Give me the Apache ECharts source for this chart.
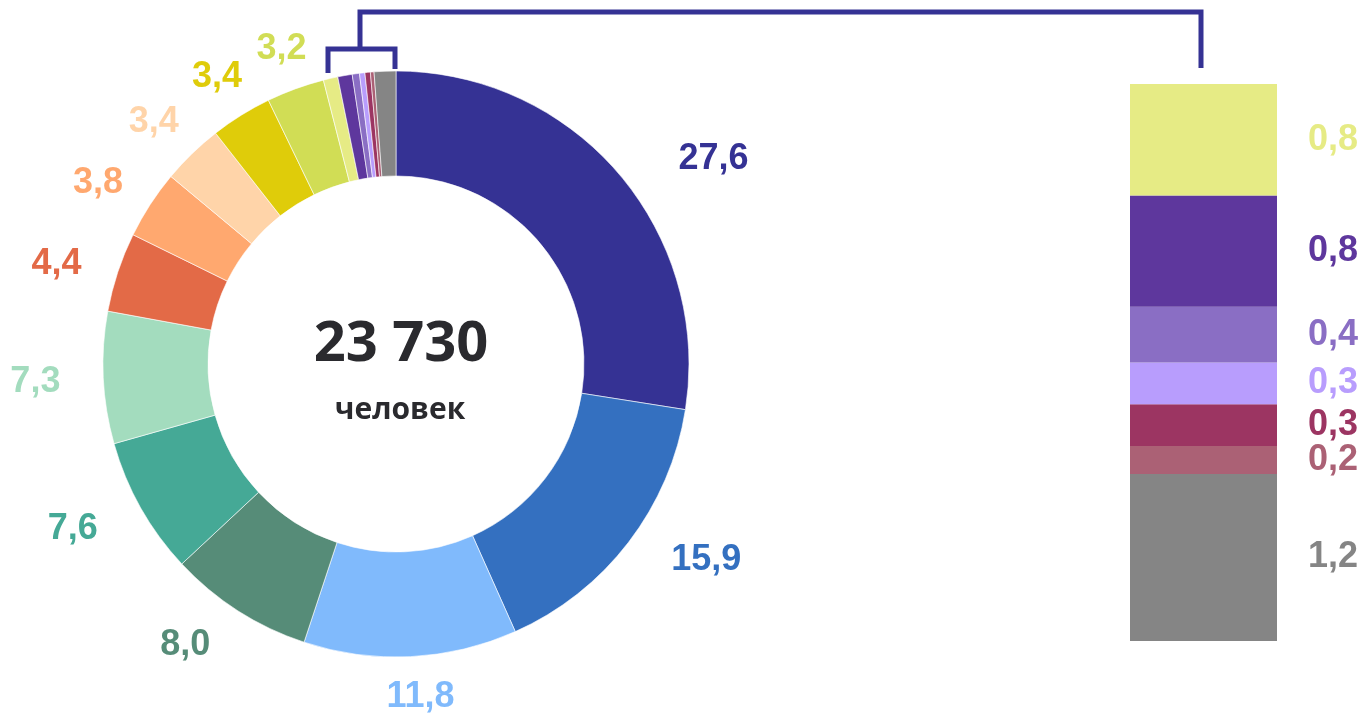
<!DOCTYPE html>
<html>
<head>
<meta charset="utf-8">
<script src="https://cdn.jsdelivr.net/npm/echarts@6/dist/echarts.min.js"></script>
<style>
html,body{margin:0;padding:0;background:#fff;}
#c{width:1369px;height:713px;}
</style>
</head>
<body>
<div id="c"></div>
<script>
// ---- data ----
var pieValues = [27.6, 15.9, 11.8, 8.0, 7.6, 7.3, 4.4, 3.8, 3.4, 3.4, 3.2, 0.8, 0.8, 0.4, 0.3, 0.3, 0.2, 1.2];
var pieColors = ['#353294', '#3470c0', '#80bafc', '#568c78', '#45a996', '#a3dcbe', '#e36a47', '#ffa86f', '#ffd4a9', '#dfcc0a', '#d1dd55',
                 '#e6eb85', '#5e379d', '#8a6ec4', '#b89dfd', '#9c3562', '#ab6175', '#858585'];
var labelledCount = 11;           // first slices that carry an outside label
// breakdown of the small slices, top to bottom of the column
var detailValues = [0.8, 0.8, 0.4, 0.3, 0.3, 0.2, 1.2];
var detailColors = ['#e6eb85', '#5e379d', '#8a6ec4', '#b89dfd', '#9c3562', '#ab6175', '#858585'];
var totalText = '23 730';
var totalUnit = 'человек';

// ---- styling helpers (label nudges, px) ----
var labelNudge = [[53, 21], [34, -16], [7, -14], [-23, -12], [-20, -6], [-13, 2], [-9, 9], [-6, 9], [0, 8], [5, 8], [5, 12]];

function fmt(v) { return v.toFixed(1).replace('.', ','); }

var chart = echarts.init(document.getElementById('c'), null, {renderer: 'canvas'});

var pieData = pieValues.map(function (v, i) {
  return {value: v, itemStyle: {color: pieColors[i]}};
});
var labelData = pieValues.map(function (v, i) {
  var show = i < labelledCount;
  return {
    value: v,
    itemStyle: {color: 'rgba(0,0,0,0)'},
    label: {show: show, color: pieColors[i], offset: show ? labelNudge[i] : [0, 0]}
  };
});

var total = detailValues.reduce(function (a, b) { return a + b; }, 0);
var barSeries = [];
for (var i = detailValues.length - 1; i >= 0; i--) {
  barSeries.push({
    type: 'bar',
    stack: 'd',
    barWidth: '100%',
    silent: true,
    data: [detailValues[i]],
    itemStyle: {color: detailColors[i]},
    label: {
      show: true,
      position: 'right',
      distance: 31,
      color: detailColors[i],
      fontFamily: 'Liberation Sans, Arial, sans-serif',
      fontWeight: 'bold',
      fontSize: 36,
      formatter: function (p) { return fmt(p.value); }
    }
  });
}

var lineStyle = {stroke: '#353294', lineWidth: 5, fill: null, lineJoin: 'miter', lineCap: 'butt'};

chart.setOption({
  animation: false,
  grid: {left: 1130, top: 84, width: 147, height: 557},
  xAxis: {type: 'category', data: ['x'], show: false},
  yAxis: {type: 'value', min: 0, max: total, show: false},
  series: [
    {
      type: 'pie',
      center: [396, 364],
      radius: [188, 293],
      startAngle: 90,
      silent: true,
      label: {show: false},
      labelLine: {show: false},
      itemStyle: {borderColor: '#ffffff', borderWidth: 0.6},
      data: pieData
    },
    {
      type: 'pie',
      center: [396, 364],
      radius: [335, 355],
      startAngle: 90,
      silent: true,
      labelLine: {show: false},
      label: {
        position: 'inside',
        fontFamily: 'Liberation Sans, Arial, sans-serif',
        fontWeight: 'bold',
        fontSize: 36,
        formatter: function (p) { return fmt(p.value); }
      },
      data: labelData
    }
  ].concat(barSeries),
  graphic: [
    {type: 'polyline', shape: {points: [[328, 73], [328, 49], [395, 49], [395, 69]]}, style: lineStyle, silent: true},
    {type: 'polyline', shape: {points: [[360, 49], [360, 12], [1201, 12], [1201, 68]]}, style: lineStyle, silent: true},
    {type: 'text', x: 401, y: 345, silent: true,
      style: {text: totalText, fill: '#2a2a2e', font: 'bold 56px "Open Sans", sans-serif', textAlign: 'center', textVerticalAlign: 'middle'}},
    {type: 'text', x: 400, y: 410, silent: true,
      style: {text: totalUnit, fill: '#2a2a2e', font: 'bold 30px "Open Sans", sans-serif', textAlign: 'center', textVerticalAlign: 'middle'}}
  ]
});
</script>
</body>
</html>
